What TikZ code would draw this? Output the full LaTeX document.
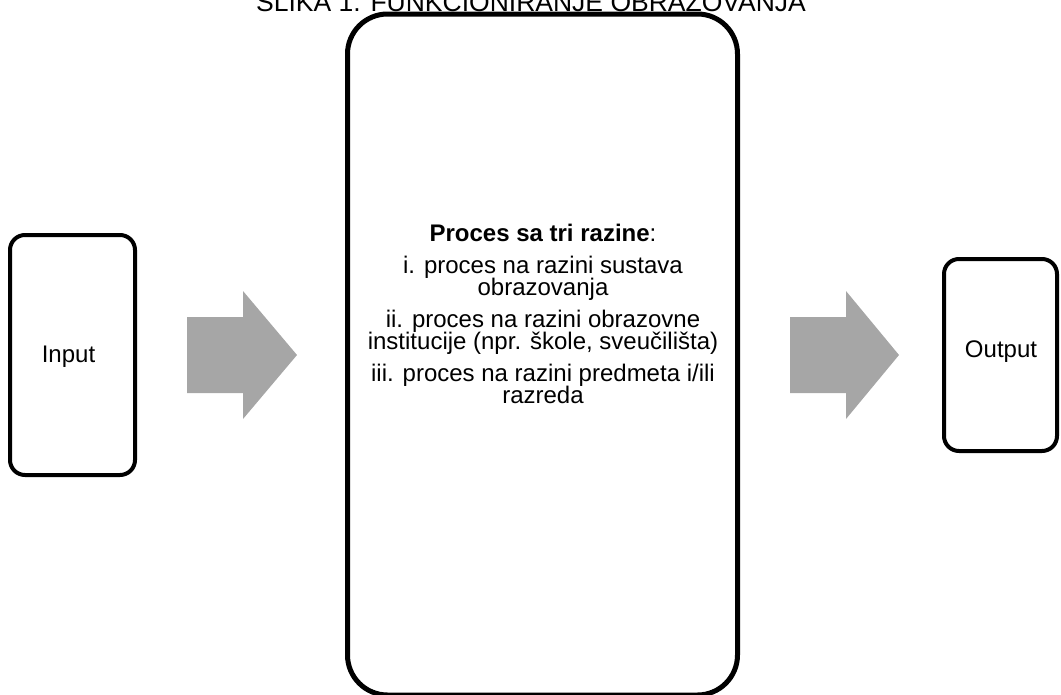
\documentclass[tikz,border=0pt]{standalone}
\usepackage{fontspec}
\setmainfont{Liberation Sans}
\begin{document}
\begin{tikzpicture}[x=1pt,y=-1pt,
  sidebox/.style={draw=black,line width=4pt,rounded corners=15pt,fill=white},
  mainbox/.style={draw=black,line width=5pt,rounded corners=40pt,fill=white},
  blockarrow/.style={fill=arrowgray,draw=none},
  label/.style={font=\fontsize{24}{22.5}\selectfont,align=center,inner sep=0pt}]
\definecolor{arrowgray}{HTML}{A6A6A6}
\useasboundingbox (0,0) rectangle (1061,694);
\clip (0,0) rectangle (1061,694);

% caption line across the top
\node[anchor=base,font=\fontsize{26.5}{30}\selectfont] (caption) at (531,11) {SLIKA 1. FUNKCIONIRANJE OBRAZOVANJA};

% input box
\draw[sidebox] (10,235) rectangle (135,475);
\node[label] (input) at (68.5,357) {Input};

% central process box
\draw[mainbox] (347.5,14) rectangle (737.5,695);
\node[label] (process) at (543,314) {%
  \textbf{Proces sa tri razine}:\\[9pt]
  i. proces na razini sustava\\ obrazovanja\\[9pt]
  ii. proces na razini obrazovne\\ institucije (npr. škole, sveučilišta)\\[9pt]
  iii. proces na razini predmeta i/ili\\ razreda};

% output box
\draw[sidebox] (944,259) rectangle (1057,451);
\node[label] (output) at (1001,352) {Output};

% block arrows between the stages
\fill[blockarrow] (187,317) -- (243,317) -- (243,291) -- (297,355) -- (243,419) -- (243,393) -- (187,393) -- cycle;
\fill[blockarrow] (790,317) -- (846,317) -- (846,291) -- (899,355) -- (846,419) -- (846,393) -- (790,393) -- cycle;
\end{tikzpicture}
\end{document}
